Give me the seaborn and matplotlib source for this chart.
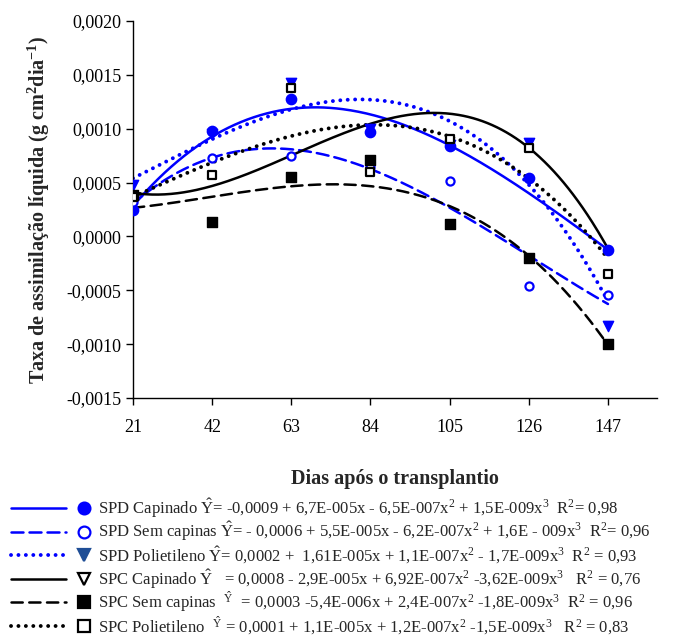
import numpy as np
import matplotlib
matplotlib.use("Agg")
import matplotlib.pyplot as plt
from matplotlib.lines import Line2D
from matplotlib.ticker import FuncFormatter
import seaborn as sns

# days after transplanting
dias = [21, 42, 63, 84, 105, 126, 147]

spd_capinado_obs = [0.00025, 0.00098, 0.00128, 0.00097, 0.00084, 0.00054, -0.00013]
spd_semcap_obs = [0.00032, 0.00073, 0.00075, 0.00064, 0.00051, -0.00046, -0.00054]
spd_poli_obs = [0.00048, 0.00095, 0.00142, 0.00100, 0.00085, 0.00087, -0.00083]
spc_semcap_obs = [0.00038, 0.00013, 0.00055, 0.00071, 0.00012, -0.00020, -0.00100]
spc_poli_obs = [0.00037, 0.00057, 0.00138, 0.00060, 0.00090, 0.00082, -0.00035]

# fitted trend curves at each day
spd_capinado_fit = [0.00028, 0.00093, 0.00119, 0.00113, 0.00083, 0.00042, -0.00013]
spd_semcap_fit = [0.00031, 0.00072, 0.00081, 0.00063, 0.00028, -0.00020, -0.00062]
spd_poli_fit = [0.00053, 0.00092, 0.00119, 0.00125, 0.00104, 0.00053, -0.00062]
spc_capinado_fit = [0.00040, 0.00048, 0.00075, 0.00104, 0.00113, 0.00084, -0.00012]
spc_semcap_fit = [0.00027, 0.00036, 0.00046, 0.00048, 0.00029, -0.00020, -0.00100]
spc_poli_fit = [0.00037, 0.00068, 0.00093, 0.00104, 0.00094, 0.00052, -0.00020]

labels = [
    r"SPD Capinado $\hat{\mathrm{Y}}$= -0,0009 + 6,7E-005x - 6,5E-007x$^2$ + 1,5E-009x$^3$  R$^2$= 0,98",
    r"SPD Sem capinas $\hat{\mathrm{Y}}$= - 0,0006 + 5,5E-005x - 6,2E-007x$^2$ + 1,6E - 009x$^3$  R$^2$= 0,96",
    r"SPD Polietileno $\hat{\mathrm{Y}}$= 0,0002 +  1,61E-005x + 1,1E-007x$^2$ - 1,7E-009x$^3$  R$^2$ = 0,93",
    r"SPC Capinado $\hat{\mathrm{Y}}$   = 0,0008 - 2,9E-005x + 6,92E-007x$^2$ -3,62E-009x$^3$   R$^2$ = 0,76",
    r"SPC Sem capinas  $^{\hat{\mathrm{Y}}}$  = 0,0003 -5,4E-006x + 2,4E-007x$^2$ -1,8E-009x$^3$  R$^2$ = 0,96",
    r"SPC Polietileno  $^{\hat{\mathrm{Y}}}$ = 0,0001 + 1,1E-005x + 1,2E-007x$^2$ -1,5E-009x$^3$   R$^2$ = 0,83",
]

sns.set_style("ticks")
plt.rcParams["font.family"] = ["Liberation Serif", "DejaVu Serif"]
plt.rcParams["mathtext.fontset"] = "custom"
plt.rcParams["mathtext.rm"] = "Liberation Serif"
plt.rcParams["mathtext.it"] = "Liberation Serif:italic"
plt.rcParams["mathtext.bf"] = "Liberation Serif:bold"

fig = plt.figure(figsize=(6.73, 6.39), dpi=100)
ax = fig.add_axes([133 / 673, 1 - 398 / 639, 524 / 673, 377 / 639])

BLUE = "#0000ff"
dot = (0, (0.01, 1.9))
curves = [
    (spd_capinado_fit, BLUE, "-", 1.8),
    (spd_semcap_fit, BLUE, (0, (4.8, 2.4)), 1.8),
    (spd_poli_fit, BLUE, dot, 2.8),
    (spc_capinado_fit, "black", "-", 1.8),
    (spc_semcap_fit, "black", (0, (4.5, 2.6)), 1.8),
    (spc_poli_fit, "black", dot, 2.8),
]

xs = np.linspace(dias[0], dias[-1], 300)
for fit, col, ls, lw in curves:
    coef = np.polyfit(dias, fit, 3)
    sns.lineplot(x=xs, y=np.polyval(coef, xs), ax=ax, color=col, linestyle=ls,
                 linewidth=lw, dash_capstyle="round", zorder=2)

points = [
    (spd_capinado_obs, "o", BLUE, BLUE, 55, 1.0),
    (spd_semcap_obs, "o", "white", BLUE, 34, 1.6),
    (spd_poli_obs, "v", BLUE, BLUE, 55, 1.0),
    (spc_semcap_obs, "s", "black", "black", 42, 1.0),
    (spc_poli_obs, "s", "white", "black", 36, 1.6),
]
for obs, mk, fc, ec, s, lw in points:
    sns.scatterplot(x=dias, y=obs, ax=ax, marker=mk, s=s, facecolor=fc,
                    edgecolor=ec, linewidth=lw, zorder=3)

ax.set_xlim(21, 160)
ax.set_ylim(-0.0015, 0.0020)
ax.set_xticks(dias)
ax.set_yticks(np.arange(-0.0015, 0.00201, 0.0005))
ax.yaxis.set_major_formatter(FuncFormatter(lambda v, p: f"{v:.4f}".replace(".", ",").replace("-0,0000", "0,0000")))
sns.despine(ax=ax)
for sp in ax.spines.values():
    sp.set_linewidth(1.0)
    sp.set_color("black")
ax.tick_params(axis="both", labelsize=13, colors="black", width=1.0, length=5)
ax.tick_params(axis="x", pad=10)
ax.set_xlabel("Dias após o transplantio", fontsize=14.5, fontweight="bold", labelpad=24)
ax.set_ylabel(r"Taxa de assimilação líquida (g cm$^{\mathbf{2}}$dia$^{\mathbf{-1}}$)",
              fontsize=14.5, fontweight="bold", labelpad=10)

# legend drawn below the axes
leg_styles = [
    (BLUE, "-", 1.8, "o", BLUE, BLUE),
    (BLUE, (0, (4.8, 2.4)), 1.8, "o", "white", BLUE),
    (BLUE, dot, 2.8, "v", "#1f4e96", "#1f4e96"),
    ("black", "-", 1.8, "v", "white", "black"),
    ("black", (0, (4.5, 2.6)), 1.8, "s", "black", "black"),
    ("black", dot, 2.8, "s", "white", "black"),
]
W, H = 673, 639
for i, ((col, ls, lw, mk, fc, ec), lab) in enumerate(zip(leg_styles, labels)):
    yy = 1 - (508 + 23.6 * i) / H
    fig.add_artist(Line2D([11 / W, 66 / W], [yy, yy], color=col, linestyle=ls,
                          linewidth=lw, dash_capstyle="round"))
    fig.add_artist(Line2D([84 / W], [yy], marker=mk, markersize=8.5, markerfacecolor=fc,
                          markeredgecolor=ec, markeredgewidth=1.6, linestyle="none"))
    fig.text(98 / W, yy, lab, fontsize=12, va="center", ha="left")

fig.savefig("out.png", dpi=100)
